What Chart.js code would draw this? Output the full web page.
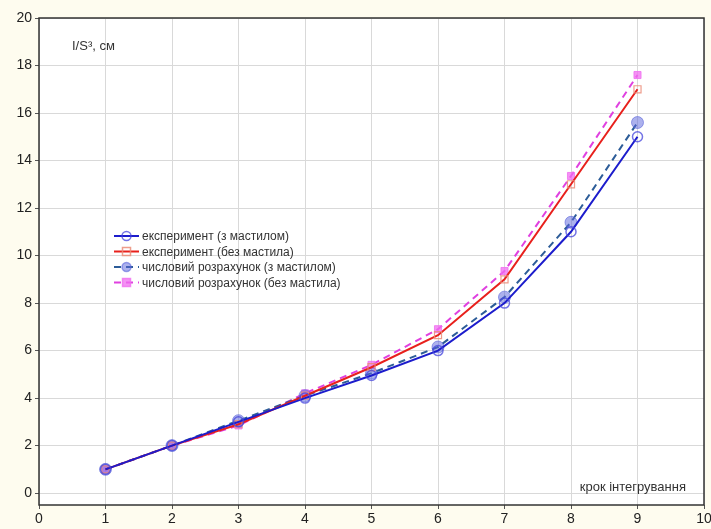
<!DOCTYPE html>
<html>
<head>
<meta charset="utf-8">
<script src="https://cdn.jsdelivr.net/npm/chart.js@4.4.1/dist/chart.umd.min.js"></script>
<style>
  html, body { margin: 0; padding: 0; background: #fefcef; }
  #wrap { width: 711px; height: 529px; position: relative; }
</style>
</head>
<body>
<div id="wrap"><canvas id="chart" width="711" height="529"></canvas></div>
<script>
// data
const steps = [1, 2, 3, 4, 5, 6, 7, 8, 9]
const expWith = [1, 2, 3, 4, 4.95, 6, 8, 11, 15]
const expWithout = [1, 2, 2.9, 4.1, 5.3, 6.65, 9, 13, 17]
const calcWith = [1, 2, 3.05, 4.1, 5.05, 6.15, 8.25, 11.4, 15.6]
const calcWithout = [1, 2, 2.85, 4.2, 5.4, 6.9, 9.35, 13.35, 17.6]
const xTicks = [0, 1, 2, 3, 4, 5, 6, 7, 8, 9, 10]
const yTicks = [0, 2, 4, 6, 8, 10, 12, 14, 16, 18, 20]
const labels = [
  'експеримент (з мастилом)',
  'експеримент (без мастила)',
  'числовий розрахунок (з мастилом)',
  'числовий розрахунок (без мастила)'
]

const pts = arr => steps.map((x, i) => ({ x: x, y: arr[i] }))
const FONT = "'Liberation Sans Narrow', 'Liberation Sans', Arial, sans-serif"

// background + axis titles + legend drawn inside plot
const decor = {
  id: 'decor',
  beforeDraw(chart) {
    const c = chart.ctx, a = chart.chartArea
    c.save()
    c.fillStyle = '#fefcef'
    c.fillRect(0, 0, chart.width, chart.height)
    c.fillStyle = '#ffffff'
    c.fillRect(a.left, a.top, a.right - a.left, a.bottom - a.top)
    c.restore()
  },
  afterDraw(chart) {
    const c = chart.ctx, a = chart.chartArea
    c.save()
    c.strokeStyle = '#333'
    c.lineWidth = 1.5
    c.strokeRect(a.left, a.top, a.right - a.left, a.bottom - a.top)

    c.fillStyle = '#333'
    c.font = "13px 'Liberation Sans', Arial, sans-serif"
    c.textBaseline = 'middle'
    c.textAlign = 'left'
    c.fillText('I/S³, см', 72, 46)
    c.textAlign = 'right'
    c.fillText('крок інтегрування', 686, 487)

    // legend
    const x0 = 114, x1 = 139, y0 = 236, dy = 15.5
    c.textAlign = 'left'
    c.font = "12px 'Liberation Sans', Arial, sans-serif"
    chart.data.datasets.forEach((ds, i) => {
      const y = y0 + i * dy
      c.beginPath()
      c.setLineDash(ds.borderDash || [])
      c.strokeStyle = ds.borderColor
      c.lineWidth = 2
      c.moveTo(x0, y); c.lineTo(x1, y)
      c.stroke()
      c.setLineDash([])
      const mx = (x0 + x1) / 2
      c.beginPath()
      if (ds.pointStyle === 'rect') c.rect(mx - 4, y - 4, 8, 8)
      else c.arc(mx, y, 4.5, 0, Math.PI * 2)
      c.fillStyle = ds.pointBackgroundColor
      c.fill()
      c.strokeStyle = ds.pointBorderColor
      c.lineWidth = 1.5
      c.stroke()
      c.fillStyle = '#333'
      c.fillText(ds.label, x1 + 3, y + 1)
    })
    c.restore()
  }
}

new Chart(document.getElementById('chart'), {
  type: 'line',
  data: {
    datasets: [
      {
        label: labels[0],
        data: pts(expWith),
        borderColor: '#1c1ccc',
        borderWidth: 2,
        pointStyle: 'circle',
        pointRadius: 5,
        pointBackgroundColor: 'rgba(255,255,255,0)',
        pointBorderColor: 'rgba(70,70,220,0.75)',
        pointBorderWidth: 1.5
      },
      {
        label: labels[1],
        data: pts(expWithout),
        borderColor: '#e8201c',
        borderWidth: 2,
        pointStyle: 'rect',
        pointRadius: 5,
        pointBackgroundColor: 'rgba(255,255,255,0)',
        pointBorderColor: 'rgba(235,140,120,0.85)',
        pointBorderWidth: 1.2
      },
      {
        label: labels[2],
        data: pts(calcWith),
        borderColor: '#2c5c98',
        borderWidth: 2,
        borderDash: [7, 5],
        pointStyle: 'circle',
        pointRadius: 6,
        pointBackgroundColor: 'rgba(90,100,220,0.5)',
        pointBorderColor: 'rgba(90,100,220,0.6)',
        pointBorderWidth: 1
      },
      {
        label: labels[3],
        data: pts(calcWithout),
        borderColor: '#e040e0',
        borderWidth: 2,
        borderDash: [7, 5],
        pointStyle: 'rect',
        pointRadius: 5,
        pointBackgroundColor: 'rgba(240,110,240,0.75)',
        pointBorderColor: 'rgba(240,110,240,0.8)',
        pointBorderWidth: 1
      }
    ]
  },
  options: {
    responsive: false,
    animation: false,
    layout: { padding: { top: 18, right: 3, left: 0, bottom: 0 } },
    plugins: {
      legend: { display: false },
      tooltip: { enabled: false }
    },
    scales: {
      x: {
        type: 'linear',
        min: 0,
        max: 10,
        afterBuildTicks: s => { s.ticks = xTicks.map(v => ({ value: v })) },
        afterFit: s => { s.height = 24; s.paddingLeft = 0; s.paddingRight = 0 },
        grid: { color: '#d9d9d9', tickLength: 4, tickColor: '#555' },
        border: { display: false },
        ticks: { color: '#222', font: { family: FONT, size: 14 }, padding: 2, maxRotation: 0 }
      },
      y: {
        type: 'linear',
        min: -0.5,
        max: 20,
        afterBuildTicks: s => { s.ticks = yTicks.map(v => ({ value: v })) },
        afterFit: s => { s.width = 39 },
        grid: { color: '#d9d9d9', tickLength: 4, tickColor: '#555' },
        border: { display: false },
        ticks: { color: '#222', font: { family: FONT, size: 14 }, padding: 3 }
      }
    }
  },
  plugins: [decor]
})
</script>
</body>
</html>
